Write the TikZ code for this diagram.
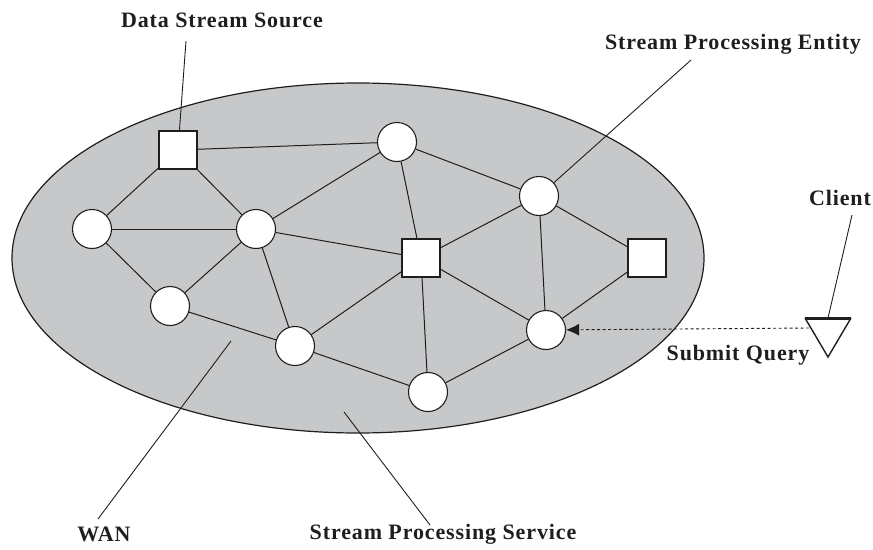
\documentclass[tikz,border=0pt]{standalone}
\usepackage{fontspec}
\setmainfont{Liberation Serif}
\usetikzlibrary{arrows.meta}
\definecolor{wanfill}{RGB}{199,200,202}
\definecolor{ink}{RGB}{30,30,30}
\begin{document}
\begin{tikzpicture}[x=1pt,y=-1pt,
  ent/.style={circle,draw=ink,fill=white,line width=1.1pt,minimum size=39pt,inner sep=0pt},
  src/.style={rectangle,draw=ink,fill=white,line width=1.1pt,minimum size=38pt,inner sep=0pt},
  link/.style={draw=ink,line width=1pt},
  lead/.style={draw=ink,line width=0.9pt},
  lbl/.style={font=\bfseries\fontsize{22}{25}\selectfont\addfontfeature{LetterSpace=4},text=ink,inner sep=0pt}
]
\useasboundingbox (0,0) rectangle (873,549);

% the network cloud
\draw[fill=wanfill,draw=ink,line width=1.2pt] (358,258) ellipse [x radius=346, y radius=175];

% sources (squares) and processing entities (circles)
\node[src] (A) at (178,150) {};
\node[ent] (B) at (397,142) {};
\node[ent] (C) at (92,229) {};
\node[ent] (D) at (256,229) {};
\node[src] (E) at (421,258) {};
\node[ent] (F) at (539,196) {};
\node[src] (G) at (647,258) {};
\node[ent] (H) at (170,306) {};
\node[ent] (I) at (295,346) {};
\node[ent] (J) at (546,330) {};
\node[ent] (K) at (428,392) {};

% links
\foreach \a/\b in {A/B,A/C,A/D,B/D,B/E,B/F,C/D,C/H,D/H,D/E,D/I,E/F,E/I,E/K,E/J,F/G,F/J,G/J,H/I,I/K,K/J}
  \path[link] (\a) -- (\b);

% client
\coordinate (tl) at (805,318);
\coordinate (tr) at (851,318);
\coordinate (tb) at (828,357);
\coordinate (ttop) at (828,318);
\draw[ink,line width=1.4pt,line join=miter] (tl) -- (tb) -- (tr);
\draw[ink,line width=3pt] (tl) -- (tr);
\coordinate (q) at (809,328);
\draw[ink,line width=0.9pt,dash pattern=on 3pt off 2.5pt,-{Latex[length=13pt,width=12pt]}] (q) -- (J);

% labels
\node[lbl] (lDSS) at (222,20) {Data Stream Source};
\node[lbl] (lSPE) at (733,44) {Stream Processing Entity};
\node[lbl] (lCli) at (840,198) {Client};
\node[lbl] (lSQ) at (738,355) {Submit Query};
\node[lbl] (lWAN) at (104,534) {WAN};
\node[lbl] (lSPS) at (443,534) {Stream Processing Service};

% leader lines
\coordinate (pDSS) at (186,41);
\coordinate (pSPE) at (691,60);
\coordinate (pCli) at (852,215);
\coordinate (pWANa) at (231,341);
\coordinate (pWANb) at (98,519);
\coordinate (pSPSa) at (344,412);
\coordinate (pSPSb) at (430,525);
\draw[lead] (A) -- (pDSS);
\draw[lead] (F) -- (pSPE);
\draw[lead] (ttop) -- (pCli);
\draw[lead] (pWANa) -- (pWANb);
\draw[lead] (pSPSa) -- (pSPSb);
\end{tikzpicture}
\end{document}
